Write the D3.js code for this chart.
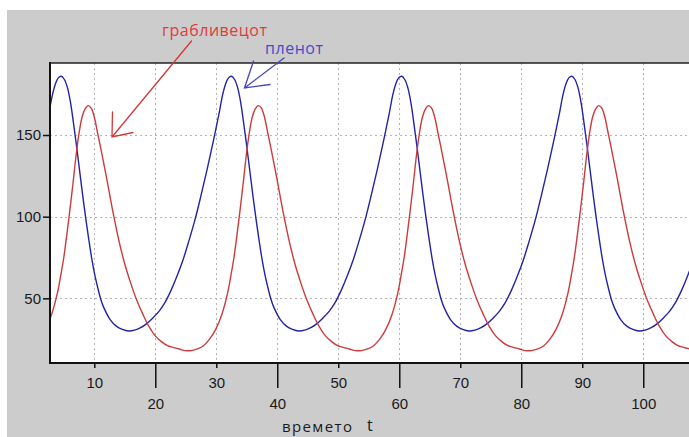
<!DOCTYPE html>
<html>
<head>
<meta charset="utf-8">
<script src="https://cdn.jsdelivr.net/npm/d3@7"></script>
<style>
  html, body { margin: 0; padding: 0; background: #ffffff; }
  svg { display: block; }
  text { font-family: "Liberation Sans", Arial, sans-serif; }
</style>
</head>
<body>
<svg id="chart" width="689" height="437"></svg>
<script>
// ---------------- data ----------------
const yTicks = [50, 100, 150];
const xTicksUpper = [10, 30, 50, 70, 90];
const xTicksLower = [20, 40, 60, 80, 100];
const xTitle = "времето";
const xVar = "t";
const predatorLabel = "грабливецот";
const preyLabel = "пленот";

// prey (пленот) — blue
const preyT = [
  2.6, 3.1, 3.6, 4.1, 4.6, 5.1, 5.6, 6.1, 6.6, 7.1, 7.6, 8.1, 8.6, 9.1, 9.6, 10.1, 10.6, 11.1, 11.6, 12.6, 13.6, 14.6, 15.6, 16.6, 17.6, 18.6, 19.6, 20.6, 21.6, 22.6,
  23.5, 24.5, 25.5, 26.5, 27.5, 28.5, 29.5, 30.5, 31, 31.5, 32, 32.5, 33, 33.5, 34, 34.5, 35, 35.5, 36, 36.5, 37, 37.5, 38, 38.5, 39, 39.5, 40.5, 41.5, 42.5, 43.5, 44.5, 45.5, 46.5, 47.5, 48.5, 49.5, 50.5,
  51.4, 52.4, 53.4, 54.4, 55.4, 56.4, 57.4, 58.4, 58.9, 59.4, 59.9, 60.4, 60.9, 61.4, 61.9, 62.4, 62.9, 63.4, 63.9, 64.4, 64.9, 65.4, 65.9, 66.4, 66.9, 67.4, 68.4, 69.4, 70.4, 71.4, 72.4, 73.4, 74.4, 75.4, 76.4, 77.4, 78.4,
  79.3, 80.3, 81.3, 82.3, 83.3, 84.3, 85.3, 86.3, 86.8, 87.3, 87.8, 88.3, 88.8, 89.3, 89.8, 90.3, 90.8, 91.3, 91.8, 92.3, 92.8, 93.3, 93.8, 94.3, 94.8, 95.3, 96.3, 97.3, 98.3, 99.3, 100.3, 101.3, 102.3, 103.3, 104.3, 105.3, 106.3,
  107.2, 108.2
];
const preyV = [
  164, 174, 181, 185, 186, 184, 179, 170, 157, 143, 128, 113, 99, 86, 74, 64, 56, 49, 44, 37, 33, 31, 30, 30.5, 32, 34.5, 38, 42, 47.5, 55,
  63, 73, 85, 98, 113, 129, 146, 164, 174, 181, 185, 186, 184, 179, 170, 157, 143, 128, 113, 99, 86, 74, 64, 56, 49, 44, 37, 33, 31, 30, 30.5, 32, 34.5, 38, 42, 47.5, 55,
  63, 73, 85, 98, 113, 129, 146, 164, 174, 181, 185, 186, 184, 179, 170, 157, 143, 128, 113, 99, 86, 74, 64, 56, 49, 44, 37, 33, 31, 30, 30.5, 32, 34.5, 38, 42, 47.5, 55,
  63, 73, 85, 98, 113, 129, 146, 164, 174, 181, 185, 186, 184, 179, 170, 157, 143, 128, 113, 99, 86, 74, 64, 56, 49, 44, 37, 33, 31, 30, 30.5, 32, 34.5, 38, 42, 47.5, 55,
  63, 73
];

// predator (грабливецот) — red
const predT = [
  2.5, 3.0, 4.0, 4.5, 5.0, 5.5, 6.0, 6.5, 7.0, 7.5, 8.0, 8.5, 9.0, 9.5, 10.0, 10.5, 11.0, 12.0, 13.0, 14.0, 15.0, 16.0, 17.0, 18.0, 19.0, 20.0, 21.0, 22.0,
  22.9, 23.9, 24.9, 25.9, 26.9, 27.9, 28.9, 29.9, 30.9, 31.9, 32.4, 32.9, 33.4, 33.9, 34.4, 34.9, 35.4, 35.9, 36.4, 36.9, 37.4, 37.9, 38.4, 38.9, 39.9, 40.9, 41.9, 42.9, 43.9, 44.9, 45.9, 46.9, 47.9, 48.9, 49.9,
  50.8, 51.8, 52.8, 53.8, 54.8, 55.8, 56.8, 57.8, 58.8, 59.8, 60.3, 60.8, 61.3, 61.8, 62.3, 62.8, 63.3, 63.8, 64.3, 64.8, 65.3, 65.8, 66.3, 66.8, 67.8, 68.8, 69.8, 70.8, 71.8, 72.8, 73.8, 74.8, 75.8, 76.8, 77.8,
  78.7, 79.7, 80.7, 81.7, 82.7, 83.7, 84.7, 85.7, 86.7, 87.7, 88.2, 88.7, 89.2, 89.7, 90.2, 90.7, 91.2, 91.7, 92.2, 92.7, 93.2, 93.7, 94.2, 94.7, 95.7, 96.7, 97.7, 98.7, 99.7, 100.7, 101.7, 102.7, 103.7, 104.7, 105.7,
  106.6, 107.6
];
const predV = [
  35, 40, 54, 64, 75, 89, 104, 120, 137, 151, 161, 166, 168, 166.5, 161, 152, 143, 124, 104, 86, 71, 59, 48.5, 40, 32.5, 27, 23.5, 21,
  20, 19, 18, 18, 19, 21, 25, 31, 40, 54, 64, 75, 89, 104, 120, 137, 151, 161, 166, 168, 166.5, 161, 152, 143, 124, 104, 86, 71, 59, 48.5, 40, 32.5, 27, 23.5, 21,
  20, 19, 18, 18, 19, 21, 25, 31, 40, 54, 64, 75, 89, 104, 120, 137, 151, 161, 166, 168, 166.5, 161, 152, 143, 124, 104, 86, 71, 59, 48.5, 40, 32.5, 27, 23.5, 21,
  20, 19, 18, 18, 19, 21, 25, 31, 40, 54, 64, 75, 89, 104, 120, 137, 151, 161, 166, 168, 166.5, 161, 152, 143, 124, 104, 86, 71, 59, 48.5, 40, 32.5, 27, 23.5, 21,
  20, 19
];

// ---------------- drawing ----------------
const W = 689, H = 437;
const plot = { left: 50, right: 689, top: 63, bottom: 363 };

const svg = d3.select("#chart");

svg.append("rect").attr("x", 7).attr("y", 10).attr("width", W - 7).attr("height", H - 10).attr("fill", "#cccccc");
svg.append("rect").attr("x", plot.left).attr("y", plot.top)
  .attr("width", plot.right - plot.left).attr("height", plot.bottom - plot.top).attr("fill", "#ffffff");

const x = d3.scaleLinear().domain([2.74, 107.5]).range([plot.left, plot.right]);
const y = d3.scaleLinear().domain([10.4, 194.1]).range([plot.bottom, plot.top]);

// grid
const grid = svg.append("g").attr("stroke", "#b4b4b4").attr("stroke-width", 1).attr("stroke-dasharray", "2,3");
xTicksUpper.concat(xTicksLower).forEach(v => {
  grid.append("line").attr("x1", Math.round(x(v)) + 0.5).attr("x2", Math.round(x(v)) + 0.5)
    .attr("y1", plot.top).attr("y2", plot.bottom);
});
yTicks.forEach(v => {
  grid.append("line").attr("y1", Math.round(y(v)) + 0.5).attr("y2", Math.round(y(v)) + 0.5)
    .attr("x1", plot.left).attr("x2", plot.right);
});

// clip
svg.append("clipPath").attr("id", "clip").append("rect")
  .attr("x", plot.left).attr("y", plot.top).attr("width", plot.right - plot.left).attr("height", plot.bottom - plot.top);

const line = d3.line().x(d => x(d[0])).y(d => y(d[1])).curve(d3.curveCatmullRom.alpha(0.5));

const lines = svg.append("g").attr("clip-path", "url(#clip)");
lines.append("path").datum(preyT.map((t, i) => [t, preyV[i]]))
  .attr("d", line).attr("fill", "none").attr("stroke", "#2323a8").attr("stroke-width", 1.4);
lines.append("path").datum(predT.map((t, i) => [t, predV[i]]))
  .attr("d", line).attr("fill", "none").attr("stroke", "#cc3b3b").attr("stroke-width", 1.4);

// axes
const yAxis = d3.axisLeft(y).tickValues(yTicks).tickSize(7).tickPadding(2).tickFormat(d3.format("d"));
const gy = svg.append("g").attr("transform", `translate(${plot.left},0)`).call(yAxis);

const xAxisUpper = d3.axisBottom(x).tickValues(xTicksUpper).tickSize(5).tickPadding(9).tickFormat(d3.format("d"));
const xAxisLower = d3.axisBottom(x).tickValues(xTicksLower).tickSize(25).tickPadding(10).tickFormat(d3.format("d"));
const gx1 = svg.append("g").attr("transform", `translate(0,${plot.bottom})`).call(xAxisUpper);
const gx2 = svg.append("g").attr("transform", `translate(0,${plot.bottom})`).call(xAxisLower);

[gy, gx1, gx2].forEach(g => {
  g.select(".domain").remove();
  g.selectAll(".tick line").attr("stroke", "#111").attr("stroke-width", 1.5);
  g.selectAll(".tick text").attr("fill", "#1a1a1a").style("font-size", "15px")
    .style("font-family", "'Liberation Sans', Arial, sans-serif");
});

// frame lines
const frame = svg.append("g").attr("stroke", "#111").attr("stroke-width", 2);
frame.append("line").attr("x1", plot.left).attr("x2", plot.left).attr("y1", plot.top - 1).attr("y2", plot.bottom + 1);
frame.append("line").attr("x1", plot.left).attr("x2", plot.right).attr("y1", plot.bottom).attr("y2", plot.bottom);
frame.append("line").attr("x1", plot.left).attr("x2", plot.right).attr("y1", plot.top).attr("y2", plot.top)
  .attr("stroke", "#222").attr("stroke-width", 1.5);

// axis title
svg.append("text").attr("x", 282).attr("y", 432).text(xTitle)
  .style("font-family", "'Open Sans', 'Noto Sans', sans-serif").style("font-size", "15px").attr("fill", "#1a1a1a")
  .attr("textLength", 70);
svg.append("text").attr("x", 367).attr("y", 431).text(xVar)
  .style("font-family", "'Open Sans', 'Noto Sans', sans-serif").style("font-size", "16px").attr("fill", "#1a1a1a");

// annotations (hand-drawn arrows)
const ann = svg.append("g").attr("fill", "none").attr("stroke-width", 1.3).attr("stroke-linecap", "round");
ann.append("path").attr("stroke", "#d43838")
  .attr("d", "M191.5,41 L112,137 M112.5,112 L112,137 L133,132.5");
ann.append("path").attr("stroke", "#4646c0")
  .attr("d", "M284,58 L244.5,88 M253.5,61 L244.5,88 L270,84.5");

svg.append("text").attr("x", 162).attr("y", 36).text(predatorLabel)
  .style("font-family", "'Open Sans', 'Noto Sans', sans-serif").style("font-size", "16px")
  .attr("fill", "#e03a3a").attr("textLength", 105);
svg.append("text").attr("x", 265).attr("y", 54).text(preyLabel)
  .style("font-family", "'Open Sans', 'Noto Sans', sans-serif").style("font-size", "16px")
  .attr("fill", "#4a4ac8").attr("textLength", 58);
</script>
</body>
</html>
